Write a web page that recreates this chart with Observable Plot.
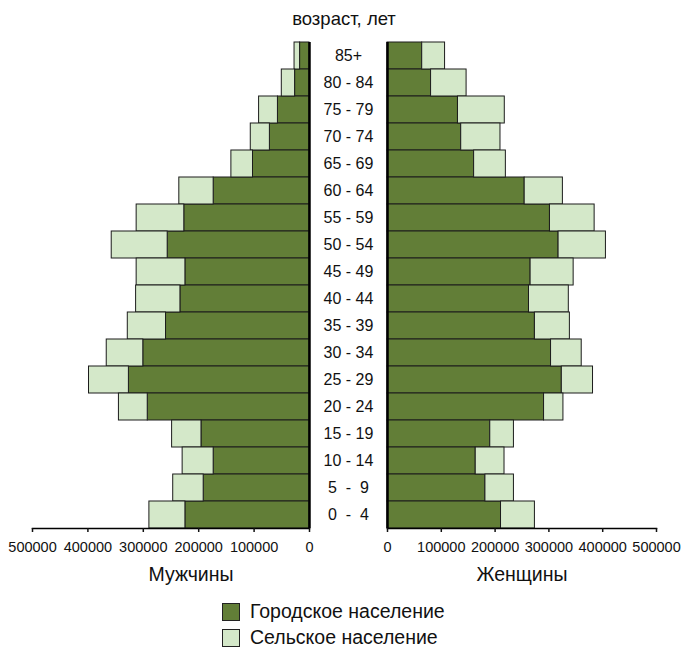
<!DOCTYPE html>
<html>
<head>
<meta charset="utf-8">
<script src="https://cdn.jsdelivr.net/npm/d3@7"></script>
<script src="https://cdn.jsdelivr.net/npm/@observablehq/plot@0.6"></script>
<style>
  html, body { margin: 0; padding: 0; background: #fff; }
  #wrap { position: relative; width: 682px; height: 647px; overflow: hidden; font-family: "Liberation Sans", Arial, sans-serif; color: #111; }
  #wrap svg { position: absolute; top: 0; background: transparent; overflow: visible; }
  .lbl { position: absolute; white-space: nowrap; line-height: 1; }
  .sw { position: absolute; width: 16px; height: 16px; border: 1px solid #222; }
</style>
</head>
<body>
<div id="wrap"></div>
<script>
const ages = ["85+","80 - 84","75 - 79","70 - 74","65 - 69","60 - 64","55 - 59","50 - 54","45 - 49","40 - 44","35 - 39","30 - 34","25 - 29","20 - 24","15 - 19","10 - 14","5  -  9","0  -  4"];
const menUrban   = [17000, 26000, 57000, 71500, 102000, 173000, 226000, 256000, 224000, 233000, 259000, 300000, 326000, 292000, 195000, 173000, 191000, 224000];
const menRural   = [10000, 24000, 34000, 34500, 39000, 62000, 86000, 101000, 88000, 80000, 69000, 66000, 72000, 52000, 53000, 56000, 55000, 65000];
const womenUrban = [64500, 81000, 131000, 137000, 161000, 255000, 302000, 318000, 266000, 263000, 274000, 304000, 324000, 291000, 191000, 164000, 182000, 211000];
const womenRural = [42500, 66000, 87000, 73000, 59000, 71000, 83000, 88000, 80000, 74000, 65000, 57000, 58000, 36000, 44000, 53500, 53000, 63000];
const ticks = [0, 100000, 200000, 300000, 400000, 500000];
const types = ["Городское население", "Сельское население"];
const colors = ["#627e37", "#d4e8c9"];
const titleText = "возраст, лет";
const menLabel = "Мужчины";
const womenLabel = "Женщины";

function rows(urban, rural) {
  const out = [];
  ages.forEach((a, i) => out.push({age: a, type: types[0], value: urban[i]}));
  ages.forEach((a, i) => out.push({age: a, type: types[1], value: rural[i]}));
  return out;
}

const common = {
  height: 560,
  marginTop: 42,
  marginBottom: 32,
  style: {fontFamily: "Liberation Sans, Arial, sans-serif", fontSize: "14.5px", color: "#111", background: "transparent", overflow: "visible"},
  y: {domain: ages, padding: 0, axis: null},
  color: {domain: types, range: colors}
};

const men = Plot.plot({
  ...common,
  width: 387,
  marginLeft: 32,
  marginRight: 78,
  x: {domain: [500000, 0]},
  marks: [
    Plot.barX(rows(menUrban, menRural), {y: "age", x: "value", fill: "type", z: "type", stroke: "#1c1c1c", strokeWidth: 1}),
    Plot.ruleX([0], {stroke: "#000", strokeWidth: 2.5}),
    Plot.frame({anchor: "bottom", stroke: "#000", strokeWidth: 1.5}),
    Plot.axisX({ticks: ticks, tickFormat: d => String(d), tickSize: 4, tickPadding: 9, label: null, strokeWidth: 1.5}),
    Plot.text(ages, {y: d => d, frameAnchor: "right", dx: 39, textAnchor: "middle", fontSize: 16, fill: "#111"})
  ]
});
men.style.left = "0px";

const women = Plot.plot({
  ...common,
  width: 305,
  marginLeft: 10,
  marginRight: 26,
  x: {domain: [0, 500000]},
  marks: [
    Plot.barX(rows(womenUrban, womenRural), {y: "age", x: "value", fill: "type", z: "type", stroke: "#1c1c1c", strokeWidth: 1}),
    Plot.ruleX([0], {stroke: "#000", strokeWidth: 2.5}),
    Plot.frame({anchor: "bottom", stroke: "#000", strokeWidth: 1.5}),
    Plot.axisX({ticks: ticks, tickFormat: d => String(d), tickSize: 4, tickPadding: 9, label: null, strokeWidth: 1.5})
  ]
});
women.style.left = "377px";

const wrap = document.getElementById("wrap");
wrap.appendChild(men);
wrap.appendChild(women);

function label(text, cx, cy, size) {
  const d = document.createElement("div");
  d.className = "lbl";
  d.textContent = text;
  d.style.fontSize = size + "px";
  d.style.top = (cy - size / 2) + "px";
  d.style.left = cx + "px";
  d.style.transform = "translateX(-50%)";
  wrap.appendChild(d);
}
label(titleText, 344, 19, 18.5);
label(menLabel, 191, 575, 19.5);
label(womenLabel, 522, 575, 19.5);

types.forEach((t, i) => {
  const cy = 612 + i * 26;
  const s = document.createElement("div");
  s.className = "sw";
  s.style.background = colors[i];
  s.style.left = "222px";
  s.style.top = (cy - 9) + "px";
  wrap.appendChild(s);
  const d = document.createElement("div");
  d.className = "lbl";
  d.textContent = t;
  d.style.fontSize = "19.5px";
  d.style.left = "250px";
  d.style.top = (cy - 10) + "px";
  wrap.appendChild(d);
});
</script>
</body>
</html>
